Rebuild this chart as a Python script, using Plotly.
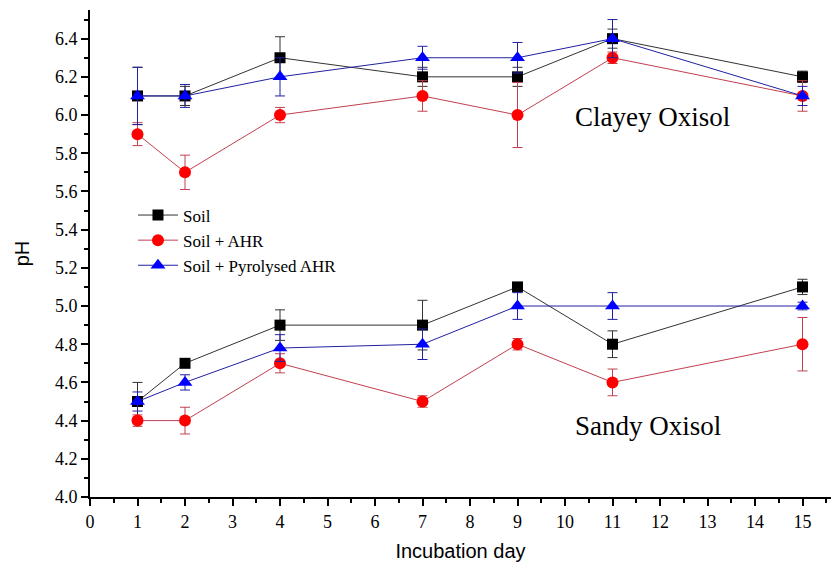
import plotly.graph_objects as go

days = [1, 2, 4, 7, 9, 11, 15]

# Clayey Oxisol
clay_soil = [6.1, 6.1, 6.3, 6.2, 6.2, 6.4, 6.2]
clay_soil_err = [0.15, 0.05, 0.11, 0.05, 0.05, 0.05, 0.03]
clay_ahr = [5.9, 5.7, 6.0, 6.1, 6.0, 6.3, 6.1]
clay_ahr_err = [0.06, 0.09, 0.04, 0.08, 0.17, 0.03, 0.08]
clay_pyr = [6.1, 6.1, 6.2, 6.3, 6.3, 6.4, 6.1]
clay_pyr_err = [0.15, 0.06, 0.1, 0.06, 0.08, 0.1, 0.05]

# Sandy Oxisol
sand_soil = [4.5, 4.7, 4.9, 4.9, 5.1, 4.8, 5.1]
sand_soil_err = [0.1, 0.02, 0.08, 0.13, 0.02, 0.07, 0.04]
sand_ahr = [4.4, 4.4, 4.7, 4.5, 4.8, 4.6, 4.8]
sand_ahr_err = [0.03, 0.07, 0.05, 0.03, 0.03, 0.07, 0.14]
sand_pyr = [4.5, 4.6, 4.78, 4.8, 5.0, 5.0, 5.0]
sand_pyr_err = [0.05, 0.04, 0.07, 0.08, 0.07, 0.07, 0.02]

series_names = ["Soil", "Soil + AHR", "Soil + Pyrolysed AHR"]
colors = ["#000000", "#ff0000", "#0000ff"]
line_colors = ["#333333", "#c04050", "#2020a0"]
symbols = ["square", "circle", "triangle-up"]
sizes = [11, 12, 13]

groups = [
    [(clay_soil, clay_soil_err), (clay_ahr, clay_ahr_err), (clay_pyr, clay_pyr_err)],
    [(sand_soil, sand_soil_err), (sand_ahr, sand_ahr_err), (sand_pyr, sand_pyr_err)],
]

fig = go.Figure()
for gi, grp in enumerate(groups):
    for si, (vals, errs) in enumerate(grp):
        fig.add_trace(go.Scatter(
            x=days, y=vals,
            mode="lines+markers",
            name=series_names[si],
            legendgroup=series_names[si],
            showlegend=(gi == 0),
            line=dict(color=line_colors[si], width=1),
            marker=dict(symbol=symbols[si], size=sizes[si], color=colors[si],
                        line=dict(width=0)),
            error_y=dict(type="data", array=errs, visible=True,
                         color=line_colors[si], thickness=1, width=5),
        ))

fig.add_annotation(x=11.85, y=5.99, xref="x", yref="y", text="Clayey Oxisol",
                   showarrow=False, xanchor="center",
                   font=dict(family="Liberation Serif", size=27, color="black"))
fig.add_annotation(x=11.75, y=4.37, xref="x", yref="y", text="Sandy Oxisol",
                   showarrow=False, xanchor="center",
                   font=dict(family="Liberation Serif", size=27, color="black"))

fig.update_layout(
    width=831, height=578,
    margin=dict(l=90, r=0, t=10, b=81),
    paper_bgcolor="white", plot_bgcolor="white",
    showlegend=True,
    legend=dict(x=0.058, y=0.615, xanchor="left", yanchor="top",
                bgcolor="rgba(0,0,0,0)", tracegroupgap=0,
                font=dict(family="Liberation Serif", size=17, color="black"),
                itemwidth=40),
    xaxis=dict(
        range=[0, 15.6], tickmode="linear", tick0=0, dtick=1,
        showgrid=False, zeroline=False,
        showline=True, linecolor="black", linewidth=2,
        ticks="outside", ticklen=7, tickwidth=2, tickcolor="black",
        minor=dict(ticks="outside", ticklen=4, tickwidth=1.5, tickcolor="black", dtick=0.5, showgrid=False),
        tickfont=dict(family="Liberation Serif", size=18, color="black"),
        title=dict(text="Incubation day", standoff=13,
                   font=dict(family="Liberation Sans", size=20, color="black")),
    ),
    yaxis=dict(
        range=[4.0, 6.55], tickmode="linear", tick0=4.0, dtick=0.2,
        tickformat=".1f",
        showgrid=False, zeroline=False,
        showline=True, linecolor="black", linewidth=2,
        ticks="outside", ticklen=7, tickwidth=2, tickcolor="black",
        minor=dict(ticks="outside", ticklen=4, tickwidth=1.5, tickcolor="black", dtick=0.1, showgrid=False),
        tickfont=dict(family="Liberation Serif", size=18, color="black"),
        title=dict(text="pH", standoff=20,
                   font=dict(family="Liberation Sans", size=20, color="black")),
    ),
)

fig.write_html("out.html")
